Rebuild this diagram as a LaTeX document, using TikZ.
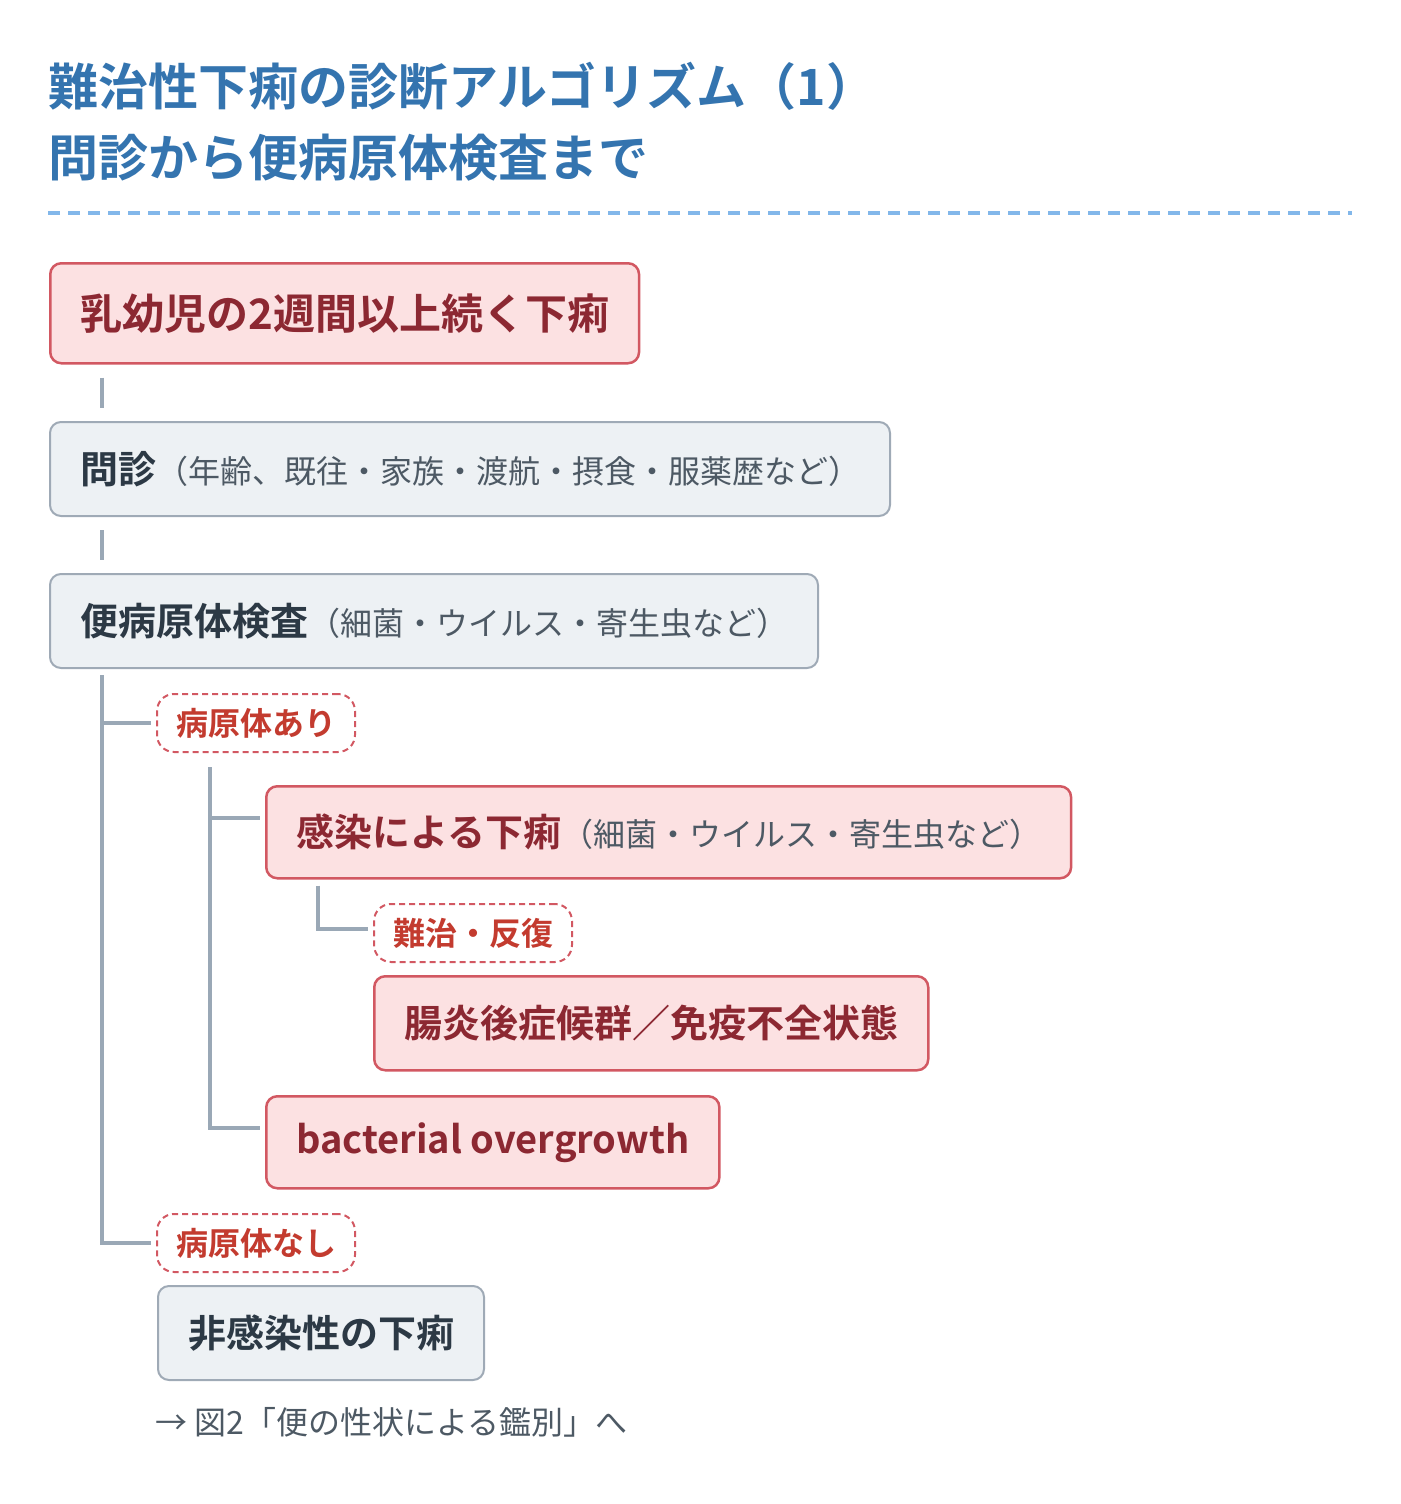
\documentclass[tikz,border=0pt]{standalone}
\usepackage{fontspec}
\setmainfont{Noto Sans CJK JP}[BoldFont={Noto Sans CJK JP Bold}]
\usetikzlibrary{calc}

\definecolor{titleblue}{HTML}{3474AF}
\definecolor{rulebl}{HTML}{82B7EA}
\definecolor{boxpink}{HTML}{FCE1E2}
\definecolor{boxred}{HTML}{D25862}
\definecolor{darkred}{HTML}{8C2832}
\definecolor{boxgray}{HTML}{EDF1F4}
\definecolor{edgegray}{HTML}{9FAAB6}
\definecolor{inkdark}{HTML}{2C3945}
\definecolor{inksub}{HTML}{4D5964}
\definecolor{linkgray}{HTML}{9AA8B6}
\definecolor{tagred}{HTML}{C33B2F}

\newcommand{\ttlfont}{\fontsize{50}{70}\selectfont\bfseries}
\newcommand{\bigfont}{\fontsize{42}{50}\selectfont\bfseries}
\newcommand{\boxfont}{\fontsize{38}{46}\selectfont\bfseries}
\newcommand{\subtxt}[1]{{\fontsize{32}{38}\selectfont\mdseries\color{inksub}#1}}
\newcommand{\tagfont}{\fontsize{32}{38}\selectfont\bfseries}
\newcommand{\notefont}{\fontsize{32}{38}\selectfont}

\begin{document}
\begin{tikzpicture}[x=1pt, y=-1pt,
  pinkbox/.style={draw=boxred, fill=boxpink, line width=2.5pt, rounded corners=11pt,
    anchor=north west, inner xsep=30pt, inner ysep=0pt, text=darkred, font=\boxfont},
  graybox/.style={draw=edgegray, fill=boxgray, line width=2pt, rounded corners=11pt,
    anchor=north west, inner xsep=30pt, inner ysep=0pt, text=inkdark, font=\boxfont,
    minimum height=94pt},
  tagbox/.style={draw=boxred, fill=white, line width=2pt, dash pattern=on 6pt off 4pt,
    rounded corners=17pt, anchor=north west, inner xsep=19pt, inner ysep=0pt,
    minimum height=58pt, text=tagred, font=\tagfont},
  link/.style={draw=linkgray, line width=3.5pt}]

\useasboundingbox (0,0) rectangle (1400,1504);

% Title and rule
\node [anchor=base west, inner sep=0pt, text=titleblue, font=\ttlfont] (title1) at (48,105) {難治性下痢の診断アルゴリズム（1）};
\node [anchor=base west, inner sep=0pt, text=titleblue, font=\ttlfont] (title2) at (48,176) {問診から便病原体検査まで};
\draw [rulebl, line width=3.5pt, dash pattern=on 12pt off 8pt] (48,213) -- (1352,213);

% Main steps
\node [pinkbox, font=\bigfont, minimum height=100pt] (prob) at (49,262) {乳幼児の2週間以上続く下痢};
\node [graybox] (hist) at (49,421) {問診\subtxt{（年齢、既往・家族・渡航・摂食・服薬歴など）}};
\node [graybox] (stool) at (49,573) {便病原体検査\subtxt{（細菌・ウイルス・寄生虫など）}};

% Branches
\node [tagbox] (yes) at (156,693) {病原体あり};
\node [pinkbox, minimum height=92pt] (inf) at (265,785) {感染による下痢\subtxt{（細菌・ウイルス・寄生虫など）}};
\node [tagbox] (hard) at (373,903) {難治・反復};
\node [pinkbox, minimum height=94pt] (post) at (373,975) {腸炎後症候群／免疫不全状態};
\node [pinkbox, minimum height=92pt] (bac) at (265,1095) {bacterial overgrowth};
\node [tagbox] (no) at (156,1213) {病原体なし};
\node [graybox] (nonin) at (157,1285) {非感染性の下痢};
\node [anchor=west, inner sep=0pt, text=inksub, font=\notefont] (note) at (155,1422) {→ 図2「便の性状による鑑別」へ};

% Connectors
\draw [link] ([xshift=53pt,yshift=-13pt]prob.south west) -- ([xshift=53pt,yshift=13pt]hist.north west);
\draw [link] ([xshift=53pt,yshift=-13pt]hist.south west) -- ([xshift=53pt,yshift=13pt]stool.north west);
\draw [link] ([xshift=53pt,yshift=-6pt]stool.south west) |- ([xshift=-5pt]yes.west);
\draw [link] ([xshift=53pt,yshift=-6pt]stool.south west) |- ([xshift=-5pt]no.west);
\draw [link] ([xshift=54pt,yshift=-14pt]yes.south west) |- ([xshift=-5pt,yshift=-33pt]inf.north west);
\draw [link] ([xshift=54pt,yshift=-14pt]yes.south west) |- ([xshift=-5pt,yshift=-33pt]bac.north west);
\draw [link] ([xshift=53pt,yshift=-6pt]inf.south west) |- ([xshift=-5pt,yshift=4pt]hard.west);

\end{tikzpicture}
\end{document}
